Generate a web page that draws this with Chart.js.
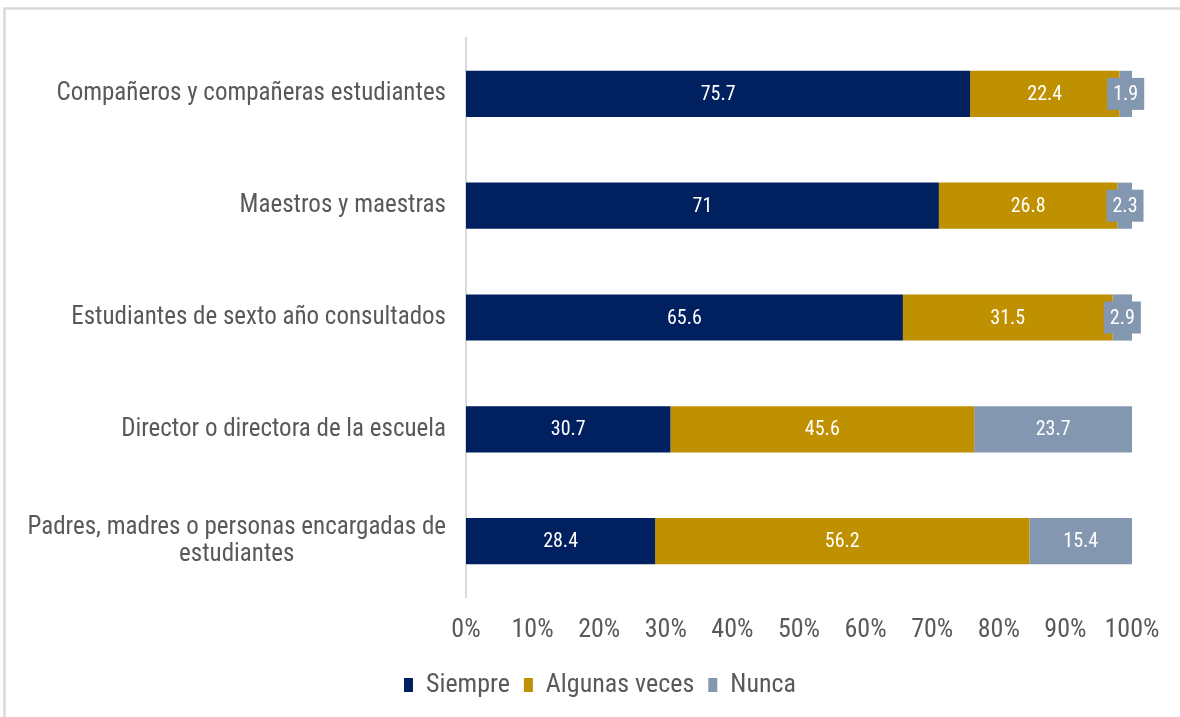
<!DOCTYPE html>
<html>
<head>
<meta charset="utf-8">
<script src="https://cdn.jsdelivr.net/npm/chart.js@4/dist/chart.umd.min.js"></script>
<style>
  html, body { margin: 0; padding: 0; background: #ffffff; }
  #wrap { width: 1180px; height: 717px; position: relative; }
</style>
</head>
<body>
<div id="wrap"><canvas id="c" width="1180" height="717"></canvas></div>
<script>
const categories = [
  "Compañeros y compañeras estudiantes",
  "Maestros y maestras",
  "Estudiantes de sexto año consultados",
  "Director o directora de la escuela",
  ["Padres, madres o personas encargadas de", "estudiantes"]
];
const seriesNames = ["Siempre", "Algunas veces", "Nunca"];
const siempre = [75.7, 71, 65.6, 30.7, 28.4];
const algunasVeces = [22.4, 26.8, 31.5, 45.6, 56.2];
const nunca = [1.9, 2.3, 2.9, 23.7, 15.4];
const xTicks = [0, 10, 20, 30, 40, 50, 60, 70, 80, 90, 100];

const colors = ["#002060", "#BF9000", "#8497B0"];
const FONT = "'Liberation Sans Narrow', 'Arial Narrow', 'Roboto Condensed', 'Liberation Sans', Arial, sans-serif";
const TEXT = "#595959";

const frame = {
  id: 'frame',
  beforeDraw(chart) {
    const ctx = chart.ctx;
    ctx.save();
    ctx.strokeStyle = '#d9d9d9';
    ctx.lineWidth = 2.5;
    ctx.beginPath();
    ctx.moveTo(4.5, 717);
    ctx.lineTo(4.5, 8.5);
    ctx.lineTo(1180, 8.5);
    ctx.stroke();
    ctx.restore();
  }
};

const yLabels = {
  id: 'yLabels',
  afterDraw(chart) {
    const scale = chart.scales.y;
    const ctx = chart.ctx;
    ctx.save();
    ctx.font = '25px ' + FONT;
    ctx.fillStyle = TEXT;
    ctx.textBaseline = 'middle';
    const right = scale.right - 20;
    const lh = 27;
    scale.ticks.forEach((t, i) => {
      const y = scale.getPixelForTick(i);
      const lab = categories[i];
      const lines = Array.isArray(lab) ? lab : [lab];
      const widths = lines.map(l => ctx.measureText(l).width);
      const w = Math.max(...widths);
      const y0 = y - (lines.length - 1) * lh / 2;
      lines.forEach((l, k) => {
        ctx.textAlign = 'center';
        ctx.fillText(l, right - w / 2, y0 + k * lh);
      });
    });
    ctx.restore();
  }
};

const dataLabels = {
  id: 'dataLabels',
  afterDatasetsDraw(chart) {
    const ctx = chart.ctx;
    ctx.save();
    ctx.font = '20px ' + FONT;
    ctx.textAlign = 'center';
    ctx.textBaseline = 'middle';
    chart.data.datasets.forEach((ds, di) => {
      const meta = chart.getDatasetMeta(di);
      meta.data.forEach((bar, i) => {
        const v = ds.data[i];
        const cx = (bar.x + bar.base) / 2;
        const cy = bar.y;
        const segW = Math.abs(bar.x - bar.base);
        const txt = String(v);
        if (segW < 40) {
          const tw = ctx.measureText(txt).width;
          const bw = tw + 12, bh = 32;
          ctx.fillStyle = ds.backgroundColor;
          ctx.fillRect(cx - bw / 2, cy - bh / 2, bw, bh);
        }
        ctx.fillStyle = '#ffffff';
        ctx.fillText(txt, cx, cy + 1);
      });
    });
    ctx.restore();
  }
};

new Chart(document.getElementById('c'), {
  type: 'bar',
  data: {
    labels: categories,
    datasets: [
      { label: seriesNames[0], data: siempre, backgroundColor: colors[0] },
      { label: seriesNames[1], data: algunasVeces, backgroundColor: colors[1] },
      { label: seriesNames[2], data: nunca, backgroundColor: colors[2] }
    ]
  },
  options: {
    indexAxis: 'y',
    responsive: false,
    animation: false,
    devicePixelRatio: 1,
    layout: { padding: { left: 68, right: 48, top: 38, bottom: 9 } },
    datasets: { bar: { categoryPercentage: 1, barPercentage: 0.413, borderWidth: 0 } },
    scales: {
      x: {
        stacked: true,
        min: 0, max: 100,
        afterBuildTicks(scale) { scale.ticks = xTicks.map(v => ({ value: v })); },
        afterFit(scale) { scale.height = 61; },
        grid: { display: false, drawTicks: false },
        border: { display: false },
        ticks: {
          padding: 18,
          color: TEXT,
          font: { family: FONT, size: 26 },
          callback: v => v + '%',
          maxRotation: 0, autoSkip: false
        }
      },
      y: {
        stacked: true,
        afterFit(scale) { scale.width = 398; },
        grid: { display: false, drawTicks: false },
        border: { display: true, color: '#d9d9d9', width: 2 },
        ticks: { color: 'rgba(0,0,0,0)', font: { family: FONT, size: 24 } }
      }
    },
    plugins: {
      legend: {
        position: 'bottom',
        labels: {
          color: TEXT,
          font: { family: FONT, size: 26 },
          boxWidth: 9,
          boxHeight: 14,
          padding: 14
        }
      },
      tooltip: { enabled: false }
    }
  },
  plugins: [frame, yLabels, dataLabels]
});
</script>
</body>
</html>
